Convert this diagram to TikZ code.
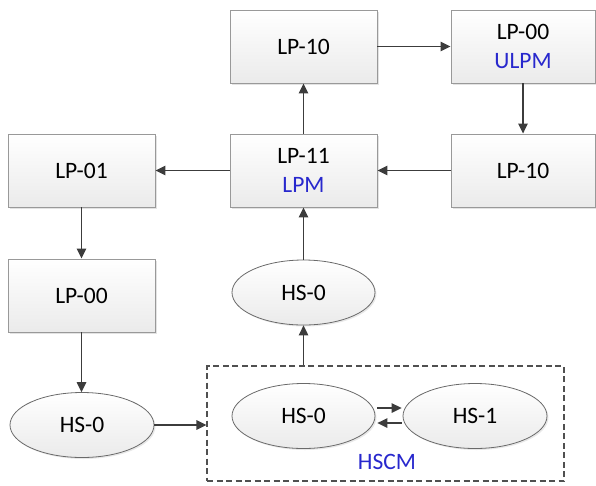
\documentclass[tikz,border=0pt]{standalone}
\usepackage{fontspec}
\setmainfont{Carlito}
\usetikzlibrary{arrows.meta,shapes.geometric,calc,shadows}
\definecolor{ln}{HTML}{3C3C3C}
\definecolor{bd}{HTML}{999999}
\definecolor{ed}{HTML}{6A6A6A}
\definecolor{bl}{RGB}{40,40,205}
\begin{document}
\begin{tikzpicture}[x=1pt,y=-1pt,
  box/.style={rectangle, draw=bd, line width=0.9pt, top color=white, bottom color=gray!16,
    minimum width=147pt, minimum height=73pt, inner sep=0pt,
    font=\fontsize{23.5}{29}\selectfont, align=center,
    drop shadow={shadow xshift=1.5pt, shadow yshift=-1.5pt, opacity=0.22}},
  oval/.style={ellipse, draw=ed, line width=0.8pt, top color=white, bottom color=gray!16,
    minimum width=143pt, minimum height=65pt, inner sep=0pt,
    font=\fontsize{23.5}{29}\selectfont,
    drop shadow={shadow xshift=1.5pt, shadow yshift=-1.5pt, opacity=0.18}},
  group/.style={rectangle, draw=ln!90, line width=1.2pt, dash pattern=on 6pt off 3.5pt,
    minimum width=357pt, minimum height=115pt, inner sep=0pt},
  arr/.style={draw=ln, line width=1.4pt, -{Triangle[length=10pt,width=9.5pt]}},
  hl/.style={text=bl}
]
\useasboundingbox (0,0) rectangle (596,485);

\node[box] (lp10t) at (303.5,46.5) {LP-10};
\node[box, minimum width=144pt] (lp00r) at (523,46.5) {LP-00\\[0pt]\textcolor{bl}{ULPM}};
\node[box] (lp11) at (303.5,170.5) {LP-11\\[0pt]\textcolor{bl}{LPM}};
\node[box, minimum width=144pt] (lp10r) at (523,170.5) {LP-10};
\node[box] (lp01) at (81.5,170.5) {LP-01};
\node[box] (lp00l) at (81.5,295.5) {LP-00};
\node[oval] (hs0m) at (303.5,292.5) {HS-0};
\node[oval, minimum width=144pt] (hs0l) at (82,425) {HS-0};
\node[group] (hscm) at (385.5,423.5) {};
\node[oval] (hs0i) at (303.5,416) {HS-0};
\node[oval, minimum width=144pt] (hs1) at (475,416) {HS-1};
\node[hl, font=\fontsize{23.5}{29}\selectfont] (lbl) at (387,462) {HSCM};

\draw[arr] (lp10t) -- (lp00r);
\draw[arr] (lp00r) -- (lp10r);
\draw[arr] (lp10r) -- (lp11);
\draw[arr] (lp11) -- (lp01);
\draw[arr] (lp11) -- (lp10t);
\draw[arr] (lp01) -- (lp00l);
\draw[arr] (lp00l) -- (lp00l |- hs0l.north);
\draw[arr] (hs0l.east) -- (hs0l.east -| hscm.west);
\draw[arr] (hs0m.south |- hscm.north) -- (hs0m.south);
\draw[arr] (hs0m) -- (lp11);
\draw[arr] ($(hs0i.east)+(2,-8)$) -- ($(hs1.west)+(-1,-8)$);
\draw[arr] ($(hs1.west)+(-1,7)$) -- ($(hs0i.east)+(2,7)$);
\end{tikzpicture}
\end{document}
